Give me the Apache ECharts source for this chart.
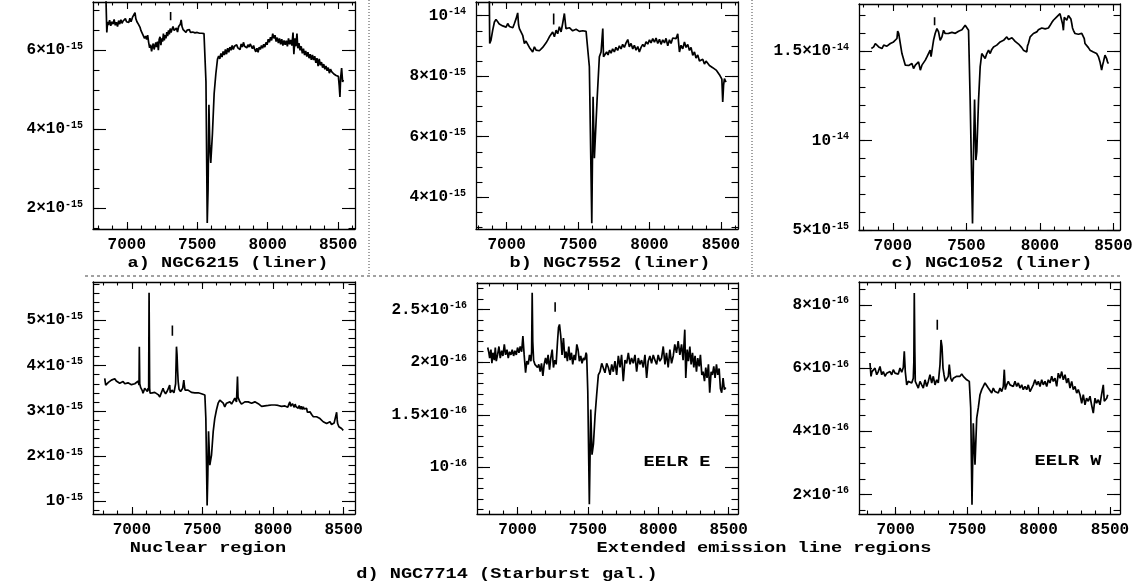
<!DOCTYPE html>
<html>
<head>
<meta charset="utf-8">
<title>NGC spectra</title>
<script src="https://cdn.jsdelivr.net/npm/echarts@6/dist/echarts.min.js"></script>
<style>
    html, body {margin: 0; padding: 0; background: #fff;}
    #box {width: 1138px; height: 586px;}
</style>
</head>
<body>
<div id="box"></div>
<script>
// wavelength ticks (Angstrom), shared by every panel
var xMajor = [7000, 7500, 8000, 8500];

// a) NGC6215, flux in 1e-15
var specA = [[6850,7.6],[6858,6.45],[6864,6.72],[6870,6.64],[6878,6.76],[6886,6.62],[6894,6.72],[6902,6.66],[6910,6.78],[6918,6.63],[6926,6.71],[6934,6.6],[6942,6.75],[6950,6.66],[6958,6.77],[6966,6.68],[6974,6.74],[6982,6.69],[6990,6.8],[6998,6.72],[7006,6.77],[7014,6.7],[7022,6.81],[7030,6.72],[7040,6.83],[7050,6.87],[7058,6.95],[7064,6.8],[7072,6.72],[7082,6.66],[7094,6.58],[7100,6.5],[7108,6.44],[7117,6.41],[7126,6.3],[7134,6.36],[7141,6.27],[7148,6.38],[7155,6.2],[7162,6.06],[7168,6.14],[7176,5.97],[7182,6.1],[7188,6.17],[7194,6.02],[7200,6.0],[7206,6.2],[7212,6.08],[7218,6.22],[7224,6.0],[7230,6.28],[7236,6.34],[7242,6.13],[7248,6.3],[7254,6.22],[7260,6.42],[7266,6.25],[7272,6.38],[7278,6.3],[7284,6.46],[7290,6.36],[7296,6.5],[7302,6.4],[7308,6.55],[7314,6.45],[7320,6.52],[7328,6.6],[7336,6.5],[7344,6.47],[7352,6.56],[7360,6.46],[7368,6.6],[7374,6.55],[7380,6.66],[7386,6.77],[7392,6.6],[7400,6.52],[7408,6.48],[7414,6.5],[7420,6.45],[7428,6.51],[7436,6.47],[7444,6.52],[7452,6.45],[7460,6.5],[7468,6.46],[7476,6.5],[7484,6.44],[7492,6.49],[7500,6.45],[7508,6.47],[7516,6.43],[7524,6.46],[7532,6.43],[7540,6.44],[7548,6.42],[7556,6.4],[7562,5.2],[7571,1.63],[7577,2.5],[7583,4.62],[7589,3.6],[7596,3.15],[7608,3.9],[7620,4.9],[7632,5.4],[7644,5.78],[7652,5.85],[7660,5.78],[7668,5.92],[7676,5.83],[7684,5.97],[7692,5.88],[7700,6.02],[7708,5.9],[7716,6.05],[7724,5.95],[7732,6.08],[7740,6.0],[7748,6.12],[7756,6.02],[7764,6.1],[7772,6.05],[7780,6.14],[7788,6.06],[7796,6.1],[7804,6.02],[7812,6.16],[7820,6.08],[7828,6.2],[7836,6.1],[7844,6.12],[7852,6.06],[7860,6.14],[7868,6.08],[7876,6.16],[7884,6.1],[7892,6.04],[7900,6.12],[7908,6.02],[7916,5.96],[7924,6.05],[7932,5.95],[7940,6.08],[7948,6.02],[7956,6.12],[7964,6.05],[7972,6.15],[7980,6.08],[7988,6.2],[7996,6.14],[8004,6.28],[8012,6.2],[8020,6.33],[8028,6.25],[8036,6.42],[8044,6.3],[8052,6.38],[8060,6.22],[8068,6.32],[8076,6.18],[8084,6.3],[8092,6.15],[8100,6.28],[8108,6.12],[8116,6.25],[8124,6.14],[8132,6.24],[8140,6.1],[8148,6.3],[8156,6.15],[8164,6.26],[8172,6.12],[8180,6.45],[8186,5.9],[8194,6.3],[8200,6.1],[8208,6.42],[8214,6.05],[8222,6.18],[8230,6.0],[8238,6.1],[8246,5.92],[8254,6.04],[8262,5.88],[8270,5.98],[8278,5.84],[8286,5.95],[8294,5.8],[8302,5.9],[8310,5.76],[8318,5.88],[8326,5.75],[8334,5.85],[8342,5.68],[8350,5.8],[8358,5.6],[8366,5.78],[8374,5.62],[8382,5.7],[8390,5.56],[8398,5.65],[8406,5.52],[8414,5.6],[8422,5.48],[8430,5.56],[8438,5.42],[8446,5.52],[8454,5.46],[8462,5.5],[8470,5.4],[8478,5.44],[8486,5.36],[8494,5.4],[8502,5.34],[8508,5.1],[8513,4.82],[8518,5.3],[8525,5.55],[8532,5.2],[8537,5.25]];
var markA = [7311, 6.76, 6.97];
var yMajorA = [2, 4, 6];

// b) NGC7552, flux in 1e-15
var specB = [[6878,10.8],[6881,9.08],[6890,9.19],[6902,9.52],[6914,9.79],[6925,9.87],[6937,9.8],[6948,9.72],[6960,9.76],[6972,9.66],[6984,9.72],[6996,9.62],[7007,9.74],[7019,9.64],[7031,9.7],[7043,9.6],[7054,9.74],[7066,9.9],[7077,10.09],[7083,9.7],[7089,9.57],[7101,9.55],[7112,9.35],[7124,9.08],[7135,9.16],[7147,9.13],[7159,8.95],[7171,8.91],[7182,8.8],[7194,8.97],[7206,8.86],[7217,8.91],[7229,8.84],[7241,8.86],[7252,8.95],[7264,8.97],[7276,9.1],[7287,9.19],[7299,9.3],[7311,9.24],[7322,9.46],[7334,9.3],[7346,9.52],[7357,9.4],[7369,9.63],[7381,9.46],[7392,9.74],[7404,10.07],[7415,9.57],[7427,9.52],[7439,9.6],[7451,9.57],[7462,9.5],[7474,9.46],[7486,9.55],[7498,9.52],[7509,9.48],[7521,9.46],[7533,9.5],[7544,9.46],[7556,9.48],[7568,9.46],[7579,8.31],[7596,3.14],[7605,7.32],[7614,5.29],[7633,7.21],[7649,8.64],[7661,8.8],[7668,8.86],[7673,9.57],[7678,8.64],[7690,8.69],[7700,8.8],[7710,8.7],[7720,8.86],[7731,8.76],[7742,8.9],[7754,8.8],[7765,8.95],[7777,8.85],[7789,9.0],[7801,8.9],[7812,9.05],[7824,8.95],[7836,9.1],[7848,9.21],[7859,8.97],[7871,9.08],[7883,8.9],[7894,9.02],[7906,8.86],[7918,8.98],[7929,8.8],[7941,8.95],[7953,9.05],[7964,8.97],[7976,9.14],[7988,9.06],[8000,9.2],[8011,9.1],[8023,9.24],[8035,9.12],[8046,9.26],[8058,9.08],[8070,9.22],[8081,9.05],[8093,9.2],[8105,9.1],[8116,9.25],[8128,9.0],[8140,9.2],[8151,9.08],[8163,9.26],[8175,9.3],[8186,9.24],[8198,9.4],[8203,9.35],[8210,8.8],[8221,9.02],[8233,8.9],[8245,9.13],[8256,8.95],[8268,9.05],[8280,8.85],[8291,8.95],[8303,8.69],[8315,8.8],[8326,8.6],[8338,8.7],[8350,8.5],[8361,8.47],[8373,8.56],[8385,8.4],[8396,8.5],[8408,8.44],[8420,8.35],[8432,8.4],[8443,8.28],[8455,8.31],[8467,8.2],[8478,8.14],[8490,8.05],[8502,8.09],[8507,7.9],[8513,7.15],[8519,7.7],[8525,7.92],[8531,7.85],[8537,7.81]];
var markB = [7329, 9.71, 10.07];
var yMajorB = [4, 6, 8, 10];

// c) NGC1052, flux in 1e-15
var specC = [[6854,15.15],[6860,15.2],[6870,15.24],[6881,15.43],[6892,15.47],[6904,15.24],[6915,15.34],[6926,15.15],[6938,15.34],[6949,15.25],[6960,15.28],[6972,15.36],[6983,15.43],[6994,15.38],[7005,15.52],[7017,15.47],[7028,15.71],[7033,16.12],[7040,16.0],[7046,15.99],[7051,15.43],[7062,14.87],[7073,14.96],[7085,14.22],[7096,14.12],[7108,14.2],[7119,14.12],[7130,14.31],[7141,14.03],[7153,14.22],[7164,14.12],[7175,14.4],[7187,13.94],[7198,14.22],[7209,14.12],[7221,14.5],[7232,14.68],[7243,14.78],[7254,15.06],[7260,14.7],[7266,14.59],[7270,15.24],[7277,15.61],[7288,15.99],[7300,16.27],[7311,16.08],[7322,15.61],[7334,15.8],[7345,16.17],[7356,15.99],[7368,16.08],[7379,16.0],[7390,15.99],[7402,16.05],[7413,16.08],[7425,16.0],[7436,16.08],[7447,16.12],[7458,16.17],[7470,16.2],[7481,16.27],[7492,16.45],[7504,16.36],[7515,16.17],[7526,12.26],[7542,5.37],[7549,9.47],[7556,12.3],[7565,8.91],[7571,9.38],[7583,12.26],[7594,14.12],[7605,14.87],[7617,14.87],[7628,14.59],[7639,14.87],[7651,15.06],[7662,14.87],[7673,15.1],[7685,15.24],[7696,15.2],[7707,15.34],[7719,15.4],[7730,15.52],[7741,15.45],[7753,15.61],[7764,15.7],[7775,15.8],[7787,15.65],[7798,15.61],[7810,15.75],[7821,15.71],[7832,15.55],[7843,15.52],[7855,15.4],[7866,15.34],[7877,15.2],[7888,15.06],[7900,15.1],[7911,14.96],[7916,15.3],[7922,15.43],[7934,15.8],[7945,15.9],[7956,15.99],[7968,16.1],[7979,16.08],[7990,16.2],[8002,16.27],[8013,16.3],[8024,16.36],[8036,16.25],[8047,16.17],[8058,16.3],[8070,16.45],[8081,16.6],[8092,16.73],[8104,16.82],[8115,16.92],[8126,17.0],[8137,17.1],[8143,16.9],[8149,16.82],[8155,16.5],[8160,16.17],[8166,16.9],[8171,17.01],[8177,16.85],[8183,16.73],[8194,17.0],[8205,17.1],[8211,16.8],[8217,16.55],[8222,16.3],[8228,16.17],[8239,15.99],[8245,16.1],[8251,16.08],[8262,15.95],[8273,15.9],[8285,16.0],[8296,15.99],[8302,15.7],[8307,15.43],[8319,15.34],[8330,15.2],[8341,15.06],[8352,15.0],[8364,14.96],[8375,14.9],[8386,14.87],[8398,14.7],[8409,14.4],[8420,13.94],[8426,14.2],[8432,14.4],[8443,14.78],[8454,14.59],[8460,14.4],[8466,14.31]];
var markC = [7284, 16.45, 16.9];
var yMajorC = [5, 10, 15];

// d) NGC7714 nuclear region, flux in 1e-15
var specD = [[6808,3.72],[6815,3.57],[6824,3.61],[6834,3.63],[6843,3.65],[6855,3.68],[6867,3.65],[6879,3.71],[6890,3.66],[6902,3.63],[6914,3.61],[6926,3.64],[6938,3.65],[6950,3.6],[6961,3.59],[6973,3.62],[6985,3.61],[6997,3.58],[7009,3.57],[7021,3.6],[7032,3.63],[7044,3.66],[7051,3.57],[7053,4.42],[7056,3.6],[7062,3.52],[7068,3.5],[7074,3.45],[7079,3.39],[7085,3.44],[7091,3.5],[7097,3.47],[7103,3.46],[7110,3.43],[7115,3.5],[7119,3.45],[7122,5.61],[7126,3.5],[7129,3.39],[7135,3.42],[7139,3.43],[7145,3.4],[7150,3.39],[7162,3.41],[7174,3.39],[7186,3.36],[7198,3.31],[7209,3.35],[7221,3.5],[7227,3.44],[7233,3.43],[7239,3.38],[7245,3.39],[7251,3.44],[7257,3.46],[7263,3.42],[7268,3.57],[7272,3.4],[7276,3.43],[7284,3.46],[7292,3.46],[7298,3.4],[7304,3.43],[7310,3.6],[7316,4.42],[7320,4.24],[7324,3.9],[7328,3.65],[7334,3.48],[7339,3.46],[7345,3.43],[7351,3.43],[7360,3.5],[7368,3.68],[7372,3.55],[7377,3.46],[7387,3.43],[7398,3.46],[7410,3.46],[7422,3.41],[7434,3.42],[7446,3.4],[7458,3.43],[7470,3.4],[7481,3.39],[7493,3.38],[7505,3.37],[7517,3.35],[7524,2.83],[7533,0.91],[7538,1.6],[7543,2.55],[7552,1.8],[7564,2.02],[7576,2.54],[7587,2.83],[7599,3.02],[7611,3.17],[7623,3.24],[7635,3.2],[7647,3.17],[7658,3.09],[7670,3.17],[7682,3.13],[7694,3.2],[7706,3.15],[7717,3.17],[7729,3.28],[7741,3.2],[7748,3.76],[7752,3.3],[7755,3.28],[7765,3.2],[7776,3.15],[7788,3.17],[7800,3.2],[7812,3.24],[7824,3.2],[7836,3.2],[7848,3.17],[7859,3.17],[7871,3.2],[7883,3.2],[7895,3.16],[7907,3.13],[7919,3.1],[7930,3.09],[7942,3.11],[7954,3.13],[7966,3.12],[7977,3.14],[7989,3.13],[8001,3.17],[8013,3.13],[8025,3.17],[8036,3.12],[8048,3.13],[8060,3.1],[8072,3.14],[8084,3.11],[8096,3.12],[8104,3.08],[8112,3.15],[8119,3.2],[8125,3.1],[8131,3.09],[8137,3.16],[8143,3.17],[8150,3.08],[8156,3.15],[8163,3.09],[8170,3.13],[8178,3.06],[8185,3.12],[8192,3.04],[8200,3.1],[8207,3.03],[8214,3.09],[8221,3.04],[8229,3.06],[8237,3.06],[8243,2.97],[8249,2.94],[8255,3.0],[8261,2.98],[8273,2.92],[8285,2.87],[8297,2.9],[8308,2.87],[8320,2.83],[8332,2.83],[8343,2.8],[8355,2.76],[8367,2.78],[8379,2.72],[8391,2.75],[8403,2.76],[8414,2.7],[8426,2.69],[8432,2.73],[8438,2.69],[8444,2.72],[8450,2.97],[8454,2.8],[8457,2.72],[8466,2.65],[8474,2.61],[8485,2.61],[8497,2.57]];
var markD = [7287, 4.66, 4.89];
var yMajorD = [1, 2, 3, 4, 5];

// EELR E, flux in 1e-16
var specE = [[6788,2.14],[6795,2.1],[6802,2.04],[6811,2.12],[6818,1.99],[6825,2.09],[6835,2.02],[6842,2.14],[6849,2.01],[6858,2.07],[6868,2.15],[6877,2.04],[6887,2.11],[6896,2.06],[6906,2.17],[6915,2.07],[6925,2.12],[6934,2.04],[6943,2.1],[6953,2.07],[6962,2.12],[6972,2.06],[6981,2.11],[6991,2.07],[7000,2.14],[7010,2.09],[7019,2.15],[7029,2.1],[7038,2.25],[7047,2.07],[7057,1.9],[7066,2.01],[7076,1.98],[7085,2.07],[7095,2.01],[7100,2.1],[7104,2.66],[7108,2.2],[7114,2.02],[7123,1.98],[7132,1.99],[7142,1.95],[7151,1.98],[7161,1.91],[7170,1.99],[7180,1.87],[7189,1.98],[7199,2.04],[7208,1.98],[7217,2.07],[7227,1.93],[7236,2.04],[7246,2.12],[7255,1.95],[7265,2.02],[7274,1.98],[7284,2.2],[7291,2.33],[7298,2.36],[7307,2.25],[7316,2.07],[7326,2.23],[7336,2.04],[7345,2.1],[7354,2.01],[7364,2.15],[7373,2.02],[7383,2.09],[7392,1.98],[7402,2.07],[7411,2.02],[7421,2.17],[7430,2.12],[7439,2.01],[7449,2.06],[7458,1.99],[7468,2.04],[7477,2.02],[7487,2.09],[7491,2.07],[7499,1.72],[7510,0.65],[7520,1.55],[7529,1.12],[7539,1.22],[7551,1.5],[7562,1.69],[7574,1.88],[7586,1.91],[7598,1.99],[7610,1.98],[7621,1.9],[7633,1.99],[7645,1.95],[7657,1.88],[7669,1.98],[7680,1.91],[7692,2.01],[7704,1.88],[7716,2.06],[7728,1.95],[7739,2.07],[7751,1.82],[7763,2.02],[7775,1.99],[7787,2.09],[7799,1.98],[7810,2.04],[7822,1.99],[7834,2.07],[7846,1.91],[7858,2.04],[7869,1.98],[7881,2.02],[7893,1.95],[7905,2.07],[7917,1.85],[7928,2.01],[7940,2.06],[7952,1.99],[7964,2.07],[7976,2.02],[7988,1.98],[7999,2.07],[8011,2.01],[8023,2.04],[8035,2.15],[8047,1.98],[8058,2.09],[8070,1.95],[8082,2.12],[8094,1.99],[8106,2.06],[8117,2.17],[8129,2.09],[8141,2.2],[8153,2.07],[8165,2.17],[8176,2.02],[8188,2.31],[8195,1.85],[8205,2.12],[8214,2.01],[8224,2.15],[8233,1.98],[8243,2.09],[8252,1.95],[8261,2.06],[8271,1.91],[8280,2.04],[8290,1.96],[8299,2.07],[8309,1.88],[8318,1.91],[8328,1.82],[8337,1.95],[8346,1.85],[8356,1.98],[8365,1.71],[8375,1.91],[8384,1.88],[8394,1.96],[8403,1.85],[8413,1.98],[8422,1.88],[8432,1.94],[8441,1.75],[8450,1.71],[8460,1.85],[8469,1.74],[8479,1.76]];
var markE = [7267, 2.48, 2.57];
var yMajorE = [1, 1.5, 2, 2.5];

// EELR W, flux in 1e-16
var specF = [[6820,6.16],[6827,5.74],[6834,5.89],[6843,5.84],[6855,6.0],[6867,5.79],[6878,5.89],[6890,6.05],[6902,5.79],[6913,5.89],[6925,5.74],[6937,5.84],[6948,5.79],[6960,5.89],[6972,5.79],[6983,5.95],[6995,5.84],[7007,5.89],[7018,5.81],[7030,6.0],[7042,5.87],[7053,6.02],[7060,6.53],[7067,5.89],[7077,5.47],[7088,5.58],[7100,5.63],[7112,5.53],[7123,5.68],[7127,6.2],[7130,8.37],[7134,6.5],[7137,5.58],[7147,5.63],[7158,5.37],[7170,5.58],[7182,5.47],[7193,5.37],[7205,5.63],[7217,5.42],[7228,5.58],[7240,5.79],[7252,5.53],[7263,5.74],[7275,5.47],[7287,5.63],[7298,5.53],[7310,6.11],[7317,6.89],[7324,6.68],[7331,6.0],[7338,5.79],[7347,5.58],[7357,5.63],[7368,5.74],[7375,6.11],[7385,5.68],[7394,5.58],[7403,5.68],[7415,5.63],[7427,5.74],[7438,5.79],[7450,5.74],[7462,5.81],[7473,5.74],[7485,5.79],[7497,5.63],[7508,5.68],[7515,5.58],[7525,4.74],[7534,1.68],[7543,4.26],[7555,2.95],[7567,4.42],[7578,4.74],[7590,5.16],[7602,5.32],[7613,5.42],[7625,5.53],[7637,5.47],[7648,5.37],[7660,5.42],[7672,5.21],[7683,5.37],[7695,5.26],[7707,5.32],[7718,5.21],[7730,5.37],[7742,5.26],[7753,5.42],[7760,5.95],[7767,5.32],[7777,5.47],[7788,5.58],[7800,5.47],[7812,5.53],[7823,5.42],[7835,5.58],[7847,5.42],[7858,5.53],[7870,5.37],[7882,5.47],[7893,5.32],[7905,5.42],[7917,5.32],[7928,5.47],[7940,5.26],[7952,5.37],[7963,5.47],[7975,5.63],[7987,5.47],[7998,5.58],[8010,5.42],[8022,5.63],[8033,5.47],[8045,5.58],[8057,5.42],[8068,5.63],[8080,5.53],[8092,5.74],[8103,5.58],[8115,5.68],[8127,5.42],[8138,5.84],[8150,5.68],[8162,5.89],[8173,5.63],[8185,5.79],[8197,5.53],[8208,5.68],[8220,5.37],[8232,5.58],[8243,5.32],[8255,5.42],[8267,5.21],[8278,5.32],[8290,5.16],[8302,4.89],[8313,5.16],[8325,4.84],[8336,5.05],[8348,4.95],[8360,5.11],[8371,4.84],[8383,4.58],[8395,5.05],[8406,4.89],[8418,5.0],[8430,4.84],[8441,5.16],[8453,5.47],[8460,4.95],[8467,4.89],[8477,5.05],[8484,5.16]];
var markF = [7291, 7.21, 7.53];
var yMajorF = [2, 4, 6, 8];

var FONT = 'Liberation Mono';

// layout of the six frames
var panels = [
    {spec: specA, mark: markA, yMajor: yMajorA, unit: 1e-15, xr: [6760, 8620], yr: [1.48, 7.22], yStep: 0.5, box: [93, 2, 262, 227]},
    {spec: specB, mark: markB, yMajor: yMajorB, unit: 1e-15, xr: [6785, 8620], yr: [2.95, 10.45], yStep: 0.5, box: [476, 2, 262, 227]},
    {spec: specC, mark: markC, yMajor: yMajorC, unit: 1e-15, xr: [6770, 8545], yr: [5.0, 17.64], yStep: 1, box: [859, 4, 261, 226]},
    {spec: specD, mark: markD, yMajor: yMajorD, unit: 1e-15, xr: [6725, 8580], yr: [0.72, 5.85], yStep: 0.2, box: [93, 282, 262, 232]},
    {spec: specE, mark: markE, yMajor: yMajorE, unit: 1e-16, xr: [6712, 8566], yr: [0.556, 2.754], yStep: 0.1, box: [477, 283, 261, 231]},
    {spec: specF, mark: markF, yMajor: yMajorF, unit: 1e-16, xr: [6743, 8570], yr: [1.39, 8.72], yStep: 0.5, box: [859, 282, 261, 232]}
];

var notes = [
    {text: 'a) NGC6215 (liner)', x: 228, y: 263},
    {text: 'b) NGC7552 (liner)', x: 610, y: 263},
    {text: 'c) NGC1052 (liner)', x: 992, y: 263},
    {text: 'Nuclear region', x: 208, y: 548},
    {text: 'Extended emission line regions', x: 764, y: 548},
    {text: 'd) NGC7714 (Starburst gal.)', x: 507, y: 574},
    {text: 'EELR E', x: 677, y: 462},
    {text: 'EELR W', x: 1068, y: 461}
];

function minorTicks(range, step) {
    var out = [];
    var k = Math.ceil(range[0] / step - 1e-9);
    while (k * step <= range[1] + 1e-9) {
        out.push(Math.round(k * step * 1000) / 1000);
        k++;
    }
    return out;
}

// 6e-15 -> 6x10^-15 with raised exponent
function sciLabel(real) {
    var e = Math.floor(Math.log10(real) + 1e-9);
    var m = Math.round(real / Math.pow(10, e) * 10) / 10;
    return (m === 1 ? '{n|10}' : '{n|' + m + '\u00d710}') + '{s|' + e + '}';
}

function makeAxis(pos, gridIndex, range, ticks, len, line, label) {
    return {
        type: 'value', gridIndex: gridIndex, position: pos,
        min: range[0], max: range[1],
        axisLine: {show: line, onZero: false, lineStyle: {color: '#000', width: 1.3}},
        axisTick: {show: true, inside: true, length: len, customValues: ticks, lineStyle: {color: '#000', width: 1.1}},
        axisLabel: label || {show: false},
        splitLine: {show: false}
    };
}

var grid = [], xAxis = [], yAxis = [], series = [];
panels.forEach(function (p, i) {
    grid.push({left: p.box[0], top: p.box[1], width: p.box[2], height: p.box[3], outerBoundsMode: 'none'});
    var xMinor = minorTicks(p.xr, 100);
    var yMinor = minorTicks(p.yr, p.yStep);
    var xLab = {
        show: true, customValues: xMajor, margin: 8, color: '#000',
        fontFamily: FONT, fontWeight: 'bold', fontSize: 16,
        formatter: function (v) { return String(v); }
    };
    var yLab = {
        show: true, customValues: p.yMajor, margin: 10,
        formatter: function (v) { return sciLabel(v * p.unit); },
        rich: {
            n: {fontFamily: FONT, fontWeight: 'bold', fontSize: 16, color: '#000', lineHeight: 18},
            s: {fontFamily: FONT, fontWeight: 'bold', fontSize: 10, color: '#000', lineHeight: 10, verticalAlign: 'top'}
        }
    };
    xAxis.push(makeAxis('bottom', i, p.xr, xMajor, 7, true, xLab));
    xAxis.push(makeAxis('bottom', i, p.xr, xMinor, 3.5, false));
    xAxis.push(makeAxis('top', i, p.xr, xMajor, 7, true));
    xAxis.push(makeAxis('top', i, p.xr, xMinor, 3.5, false));
    yAxis.push(makeAxis('left', i, p.yr, p.yMajor, 13, true, yLab));
    yAxis.push(makeAxis('left', i, p.yr, yMinor, 6.5, false));
    yAxis.push(makeAxis('right', i, p.yr, p.yMajor, 13, true));
    yAxis.push(makeAxis('right', i, p.yr, yMinor, 6.5, false));

    series.push({
        type: 'line', xAxisIndex: i * 4, yAxisIndex: i * 4,
        data: p.spec, showSymbol: false, symbol: 'none', clip: true,
        lineStyle: {color: '#000', width: 1.7}
    });
    series.push({
        type: 'line', xAxisIndex: i * 4, yAxisIndex: i * 4,
        data: [[p.mark[0], p.mark[1]], [p.mark[0], p.mark[2]]],
        showSymbol: false, symbol: 'none',
        lineStyle: {color: '#000', width: 1.6}
    });
});

var graphic = [
    {type: 'line', shape: {x1: 85, y1: 276, x2: 1122, y2: 276}, style: {stroke: '#444', lineWidth: 1, lineDash: [3, 3]}},
    {type: 'line', shape: {x1: 369, y1: 0, x2: 369, y2: 276}, style: {stroke: '#444', lineWidth: 1, lineDash: [1, 2]}},
    {type: 'line', shape: {x1: 752, y1: 0, x2: 752, y2: 276}, style: {stroke: '#444', lineWidth: 1, lineDash: [1, 2]}}
];
notes.forEach(function (t) {
    graphic.push({
        type: 'text', x: t.x, y: t.y, scaleX: 1.24,
        style: {text: t.text, fill: '#000', align: 'center', verticalAlign: 'middle',
                font: 'bold 15px "' + FONT + '"'}
    });
});

var myChart = echarts.init(document.getElementById('box'));
myChart.setOption({
    animation: false,
    backgroundColor: '#fff',
    grid: grid,
    xAxis: xAxis,
    yAxis: yAxis,
    series: series,
    graphic: graphic
});
</script>
</body>
</html>
